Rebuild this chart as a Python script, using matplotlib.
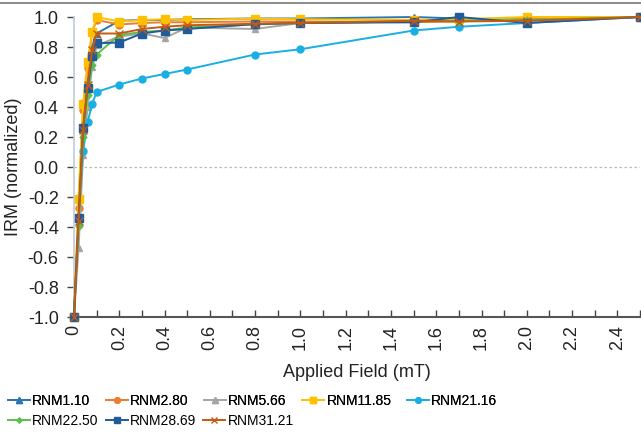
import matplotlib.pyplot as plt
from matplotlib.lines import Line2D

plt.rcParams['font.family'] = ['Liberation Sans', 'DejaVu Sans']

field = [0, 0.02, 0.04, 0.06, 0.08, 0.1, 0.2, 0.3, 0.4, 0.5, 0.8, 1.0, 1.5, 1.7, 2.0, 2.5]

rnm1_10 = [-1, -0.33, 0.26, 0.55, 0.80, 0.89, 0.975, 0.98, 0.98, 0.985, 0.99, 0.99, 1.0, 0.99, 0.98, 1.0]
rnm2_80 = [-1, -0.27, 0.38, 0.66, 0.90, 0.98, 0.95, 0.96, 0.965, 0.965, 0.97, 0.97, 0.965, 0.97, 0.99, 1.0]
rnm5_66 = [-1, -0.54, 0.08, 0.40, 0.67, 0.81, 0.87, 0.89, 0.86, 0.93, 0.92, 0.96, 0.97, 0.98, 0.98, 1.0]
rnm11_85 = [-1, -0.21, 0.42, 0.70, 0.90, 1.0, 0.97, 0.98, 0.985, 0.98, 0.99, 0.985, 0.98, 0.985, 1.0, 1.0]
rnm21_16 = [-1, -0.35, 0.11, 0.30, 0.42, 0.50, 0.55, 0.59, 0.62, 0.65, 0.75, 0.785, 0.91, 0.935, 0.96, 1.0]
rnm22_50 = [-1, -0.39, 0.20, 0.48, 0.68, 0.75, 0.88, 0.90, 0.91, 0.93, 0.95, 0.96, 0.97, 0.975, 0.98, 1.0]
rnm28_69 = [-1, -0.34, 0.26, 0.53, 0.74, 0.825, 0.83, 0.89, 0.91, 0.92, 0.953, 0.96, 0.965, 1.0, 0.96, 1.0]
rnm31_21 = [-1, -0.36, 0.25, 0.55, 0.78, 0.89, 0.89, 0.92, 0.935, 0.945, 0.955, 0.96, 0.975, 0.97, 0.975, 1.0]

names = ['RNM1.10', 'RNM2.80', 'RNM5.66', 'RNM11.85', 'RNM21.16',
         'RNM22.50', 'RNM28.69', 'RNM31.21']
series = [rnm1_10, rnm2_80, rnm5_66, rnm11_85, rnm21_16, rnm22_50, rnm28_69, rnm31_21]
colors = ['#2E75B6', '#ED7D31', '#A5A5A5', '#FFC000', '#1AAFE3',
          '#5BBF4C', '#1F5C99', '#C55A11']
markers = ['^', 'o', '^', 's', 'o', 'D', 's', 'x']
msizes = [5, 5, 5, 5.5, 5, 3.5, 5.5, 5.5]

fig = plt.figure(figsize=(6.41, 4.34), dpi=100)
ax = fig.add_axes([74 / 641, 1 - 317 / 434, 566 / 641, 300 / 434])

ax.axhline(0, color='#BBBBBB', lw=0.9, ls=(0, (2, 2)), zorder=1)

handles = []
for name, vals, c, m, ms in zip(names, series, colors, markers, msizes):
    h, = ax.plot(field, vals, color=c, marker=m, markersize=ms, lw=1.4,
                 label=name, clip_on=False, zorder=3)
    handles.append(h)

ax.set_xlim(0, 2.5)
ax.set_ylim(-1, 1)
ax.set_xticks([i / 10 for i in range(26)])
ax.set_xticklabels(['0' if i == 0 else ('%.1f' % (i / 10) if i % 2 == 0 else '')
                    for i in range(26)], rotation=90, fontsize=13, color='#222222')
ax.set_yticks([i / 10 for i in range(-10, 11, 2)])
ax.set_yticklabels(['%.1f' % (i / 10) for i in range(-10, 11, 2)], fontsize=13,
                   color='#222222')
ax.tick_params(axis='x', direction='in', length=5, width=1, color='#444444', pad=6)
ax.tick_params(axis='y', direction='out', length=5, width=1, color='#444444', pad=6)

for s in ['top', 'right']:
    ax.spines[s].set_visible(False)
ax.spines['left'].set_color('#BFCCDA')
ax.spines['left'].set_linewidth(1.2)
ax.spines['bottom'].set_color('#555555')
ax.spines['bottom'].set_linewidth(1.5)

ax.set_xlabel('Applied Field (mT)', fontsize=13, color='#222222', labelpad=10)
ax.set_ylabel('IRM (normalized)', fontsize=13, color='#222222', labelpad=4)

fig.add_artist(Line2D([0, 1], [1 - 2.5 / 434, 1 - 2.5 / 434], color='#777777', lw=1.2))

leg1 = fig.legend(handles[:5], names[:5], loc='upper left',
                  bbox_to_anchor=(8 / 641, 1 - 394 / 434), ncol=5, frameon=False,
                  fontsize=10, handlelength=1.6, handletextpad=0.15,
                  columnspacing=1.1, borderpad=0, borderaxespad=0, markerscale=0.8)
fig.add_artist(leg1)
fig.legend(handles[5:], names[5:], loc='upper left',
           bbox_to_anchor=(8 / 641, 1 - 414 / 434), ncol=3, frameon=False,
           fontsize=10, handlelength=1.6, handletextpad=0.15,
           columnspacing=0.5, borderpad=0, borderaxespad=0, markerscale=0.8)

fig.savefig('out.png', dpi=100)
